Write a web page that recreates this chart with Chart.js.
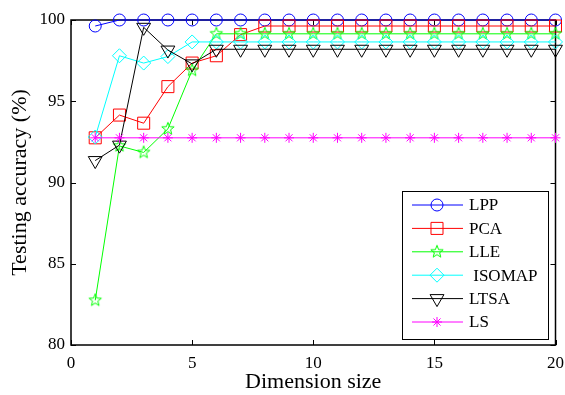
<!DOCTYPE html>
<html>
<head>
<meta charset="utf-8">
<script src="https://cdn.jsdelivr.net/npm/chart.js@4/dist/chart.umd.min.js"></script>
<style>
	html, body { margin: 0; padding: 0; background: #fff; }
	#wrap { width: 565px; height: 395px; }
</style>
</head>
<body>
<div id="wrap"><canvas id="chart" width="565" height="395"></canvas></div>
<script>
// values
const dims = [1, 2, 3, 4, 5, 6, 7, 8, 9, 10, 11, 12, 13, 14, 15, 16, 17, 18, 19, 20];
const lpp = [99.63, 100, 100, 100, 100, 100, 100, 100, 100, 100, 100, 100, 100, 100, 100, 100, 100, 100, 100, 100];
const pca = [92.75, 94.15, 93.65, 95.9, 97.35, 97.8, 99.1, 99.63, 99.63, 99.63, 99.63, 99.63, 99.63, 99.63, 99.63, 99.63, 99.63, 99.63, 99.63, 99.63];
const lle = [82.75, 92.25, 91.85, 93.3, 96.9, 99.15, 99.15, 99.15, 99.15, 99.15, 99.15, 99.15, 99.15, 99.15, 99.15, 99.15, 99.15, 99.15, 99.15, 99.15];
const isomap = [92.8, 97.8, 97.35, 97.75, 98.65, 98.65, 98.65, 98.65, 98.65, 98.65, 98.65, 98.65, 98.65, 98.65, 98.65, 98.65, 98.65, 98.65, 98.65, 98.65];
const ltsa = [91.35, 92.3, 99.55, 98.15, 97.3, 98.2, 98.2, 98.2, 98.2, 98.2, 98.2, 98.2, 98.2, 98.2, 98.2, 98.2, 98.2, 98.2, 98.2, 98.2];
const ls = [92.75, 92.75, 92.75, 92.75, 92.75, 92.75, 92.75, 92.75, 92.75, 92.75, 92.75, 92.75, 92.75, 92.75, 92.75, 92.75, 92.75, 92.75, 92.75, 92.75];
const xTicks = [0, 5, 10, 15, 20];
const yTicks = [80, 85, 90, 95, 100];

const serif = "'Liberation Serif', 'DejaVu Serif', serif";

// matlab-ish pentagram marker
const makePentagram = (color, r) => {
	const c = document.createElement('canvas');
	const s = Math.ceil(r * 2 + 3);
	c.width = s;
	c.height = s;
	const ctx = c.getContext('2d');
	const cx = s / 2, cy = s / 2;
	ctx.beginPath();
	for (let i = 0; i < 10; i++) {
		const rr = i % 2 === 0 ? r : r * 0.42;
		const a = -Math.PI / 2 + i * Math.PI / 5;
		const px = cx + rr * Math.cos(a), py = cy + rr * Math.sin(a);
		if (i === 0) ctx.moveTo(px, py);
		else ctx.lineTo(px, py);
	}
	ctx.closePath();
	ctx.strokeStyle = color;
	ctx.lineWidth = 1;
	ctx.stroke();
	return c;
};

const toPts = (arr) => arr.map((v, i) => ({ x: dims[i], y: v }));

const series = [
	{ label: 'LPP', data: lpp, color: '#0000ff', style: 'circle', r: 6, rot: 0 },
	{ label: 'PCA', data: pca, color: '#ff0000', style: 'rect', r: 8.5, rot: 0 },
	{ label: 'LLE', data: lle, color: '#00ff00', style: makePentagram('#00ff00', 6.5), r: 6.5, rot: 0 },
	{ label: ' ISOMAP', data: isomap, color: '#00ffff', style: 'rectRot', r: 7, rot: 0 },
	{ label: 'LTSA', data: ltsa, color: '#000000', style: 'triangle', r: 8, rot: 180 },
	{ label: 'LS', data: ls, color: '#ff00ff', style: 'star', r: 5, rot: 0 }
];

const datasets = series.map((s, i) => ({
	label: s.label,
	data: toPts(s.data),
	borderColor: s.color,
	backgroundColor: 'rgba(0,0,0,0)',
	borderWidth: 1,
	pointStyle: s.style,
	pointRadius: s.r,
	pointRotation: s.rot,
	pointBorderColor: s.color,
	pointBackgroundColor: 'rgba(0,0,0,0)',
	pointBorderWidth: 1,
	tension: 0,
	fill: false,
	clip: false,
	order: series.length - i
}));

// box and inward ticks under the lines, legend on top, matlab style
const matlabFrame = {
	id: 'matlabFrame',
	beforeDatasetsDraw(chart) {
		const ctx = chart.ctx;
		const a = chart.chartArea;
		const xs = chart.scales.x, ys = chart.scales.y;
		ctx.save();
		ctx.strokeStyle = '#000';
		ctx.lineWidth = 1.5;
		ctx.strokeRect(a.left, a.top, a.right - a.left, a.bottom - a.top);
		ctx.lineWidth = 1;
		const tl = 5;
		ctx.beginPath();
		xTicks.forEach((t) => {
			const px = Math.round(xs.getPixelForValue(t)) + 0.5;
			ctx.moveTo(px, a.bottom); ctx.lineTo(px, a.bottom - tl);
			ctx.moveTo(px, a.top); ctx.lineTo(px, a.top + tl);
		});
		yTicks.forEach((t) => {
			const py = Math.round(ys.getPixelForValue(t)) + 0.5;
			ctx.moveTo(a.left, py); ctx.lineTo(a.left + tl, py);
			ctx.moveTo(a.right, py); ctx.lineTo(a.right - tl, py);
		});
		ctx.stroke();
		ctx.restore();
	},
	afterDraw(chart) {
		const ctx = chart.ctx;
		ctx.save();
		const bx = 402, by = 191, bw = 146, bh = 148;
		ctx.fillStyle = '#fff';
		ctx.fillRect(bx, by, bw, bh);
		ctx.strokeStyle = '#000';
		ctx.lineWidth = 1;
		ctx.strokeRect(bx + 0.5, by + 0.5, bw, bh);
		ctx.font = '17px ' + serif;
		ctx.textBaseline = 'middle';
		ctx.textAlign = 'left';
		chart.data.datasets.forEach((ds, i) => {
			const y = by + 14 + i * 23.4;
			ctx.strokeStyle = ds.borderColor;
			ctx.lineWidth = 1;
			ctx.beginPath();
			ctx.moveTo(412, y); ctx.lineTo(463, y);
			ctx.stroke();
			ctx.fillStyle = 'rgba(0,0,0,0)';
			Chart.helpers.drawPoint(ctx, {
				pointStyle: ds.pointStyle,
				radius: ds.pointRadius,
				rotation: ds.pointRotation,
				borderWidth: 1
			}, 437, y);
			ctx.fillStyle = '#000';
			ctx.fillText(ds.label, 469, y + 1);
		});
		ctx.restore();
	}
};

new Chart(document.getElementById('chart'), {
	type: 'line',
	data: { datasets: datasets },
	options: {
		responsive: false,
		animation: false,
		events: [],
		layout: { padding: { top: 20, right: 0, left: 0, bottom: 0 } },
		plugins: { legend: { display: false }, tooltip: { enabled: false } },
		scales: {
			x: {
				type: 'linear',
				min: 0,
				max: 20,
				afterFit: (scale) => {
					scale.height = 50;
					scale.paddingRight = 9;
					scale.paddingLeft = 0;
				},
				afterBuildTicks: (scale) => { scale.ticks = xTicks.map((v) => ({ value: v })); },
				grid: { display: false, drawTicks: false },
				border: { display: false },
				ticks: { color: '#000', font: { family: serif, size: 17 }, padding: 8, maxRotation: 0 },
				title: { display: true, text: 'Dimension size', color: '#000', font: { family: serif, size: 22 }, padding: { top: 0, bottom: 0 } }
			},
			y: {
				min: 80,
				max: 100,
				afterFit: (scale) => { scale.width = 71; },
				afterBuildTicks: (scale) => { scale.ticks = yTicks.map((v) => ({ value: v })); },
				grid: { display: false, drawTicks: false },
				border: { display: false },
				ticks: { color: '#000', font: { family: serif, size: 17 }, padding: 6 },
				title: { display: true, text: 'Testing accuracy (%)', color: '#000', font: { family: serif, size: 22 }, padding: { top: 7, bottom: 0 } }
			}
		}
	},
	plugins: [matlabFrame]
});
</script>
</body>
</html>
